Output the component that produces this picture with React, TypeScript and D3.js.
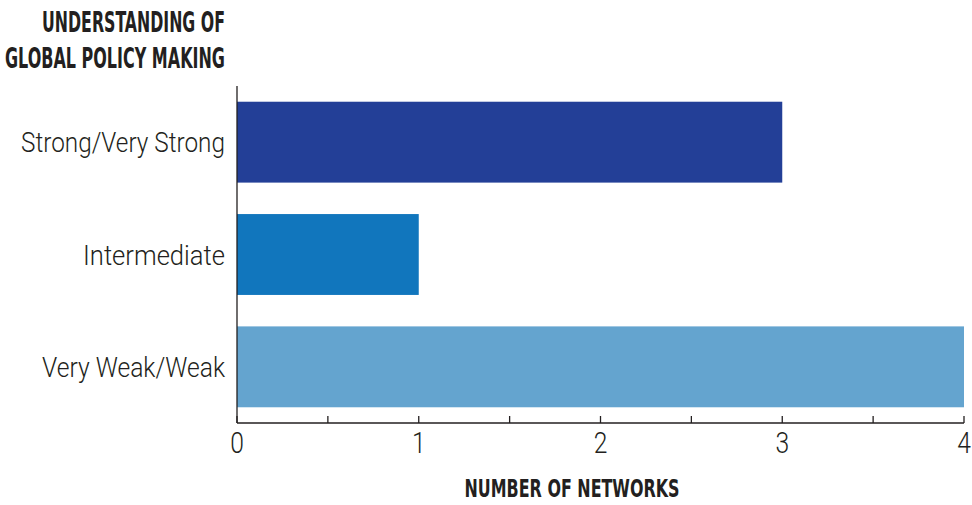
import React from "react";
import * as d3 from "d3";

const categories = ["Strong/Very Strong", "Intermediate", "Very Weak/Weak"];
const values = [3, 1, 4];
const colors = ["#233f97", "#1176bd", "#64a4cf"];
const tickValues = [0, 1, 2, 3, 4];
const minorTicks = [0.5, 1.5, 2.5, 3.5];
const titleLines = ["UNDERSTANDING OF", "GLOBAL POLICY MAKING"];
const xTitle = "NUMBER OF NETWORKS";

export default function App() {
  const W = 972, H = 505;
  const x0 = 237, x1 = 964, yTop = 86, yBot = 423;
  const x = d3.scaleLinear().domain([0, 4]).range([x0, x1]);
  const y = d3.scaleBand<string>().domain(categories).range([yTop, yBot]).paddingInner(0.28).paddingOuter(0.14);
  const labelFont = "Roboto, 'DejaVu Sans Condensed', sans-serif";
  const boldFont = "'DejaVu Sans Condensed', sans-serif";
  const labelWidths = [204, 142, 183];
  return (
    <svg width={W} height={H} style={{ position: "absolute", left: 0, top: 0 }}>
      <rect width={W} height={H} fill="#fff" />
      {titleLines.map((t, i) => (
        <text key={t} x={225} y={32 + i * 36} textAnchor="end" fontFamily={boldFont} fontWeight="bold"
          fontSize={29} fill="#231f20" textLength={i === 0 ? 183 : 220} lengthAdjust="spacingAndGlyphs">{t}</text>
      ))}
      {categories.map((c, i) => (
        <rect key={c} x={x(0)} y={y(c)} width={x(values[i]) - x(0)} height={y.bandwidth()} fill={colors[i]} />
      ))}
      {categories.map((c, i) => (
        <text key={c + "l"} x={225} y={(y(c) as number) + y.bandwidth() / 2} dy="0.36em" textAnchor="end"
          fontFamily={labelFont} fontWeight={300} fontSize={28} fill="#231f20"
          textLength={labelWidths[i]} lengthAdjust="spacingAndGlyphs">{c}</text>
      ))}
      <line x1={x0} x2={x0} y1={yTop} y2={yBot} stroke="#231f20" strokeWidth={1.3} />
      <line x1={x0} x2={x1} y1={yBot} y2={yBot} stroke="#231f20" strokeWidth={1.3} />
      {[...tickValues, ...minorTicks].map((v) => (
        <line key={"t" + v} x1={x(v)} x2={x(v)} y1={yBot} y2={yBot - 7} stroke="#231f20" strokeWidth={1.3} />
      ))}
      {tickValues.map((v) => (
        <text key={"n" + v} x={x(v)} y={453} textAnchor="middle" fontFamily={labelFont} fontWeight={300}
          fontSize={29} fill="#231f20" transform={`translate(${x(v)},0) scale(0.85,1) translate(${-x(v)},0)`}>{v}</text>
      ))}
      <text x={572} y={497} textAnchor="middle" fontFamily={boldFont} fontWeight="bold" fontSize={24} fill="#231f20"
        textLength={215} lengthAdjust="spacingAndGlyphs">{xTitle}</text>
    </svg>
  );
}
